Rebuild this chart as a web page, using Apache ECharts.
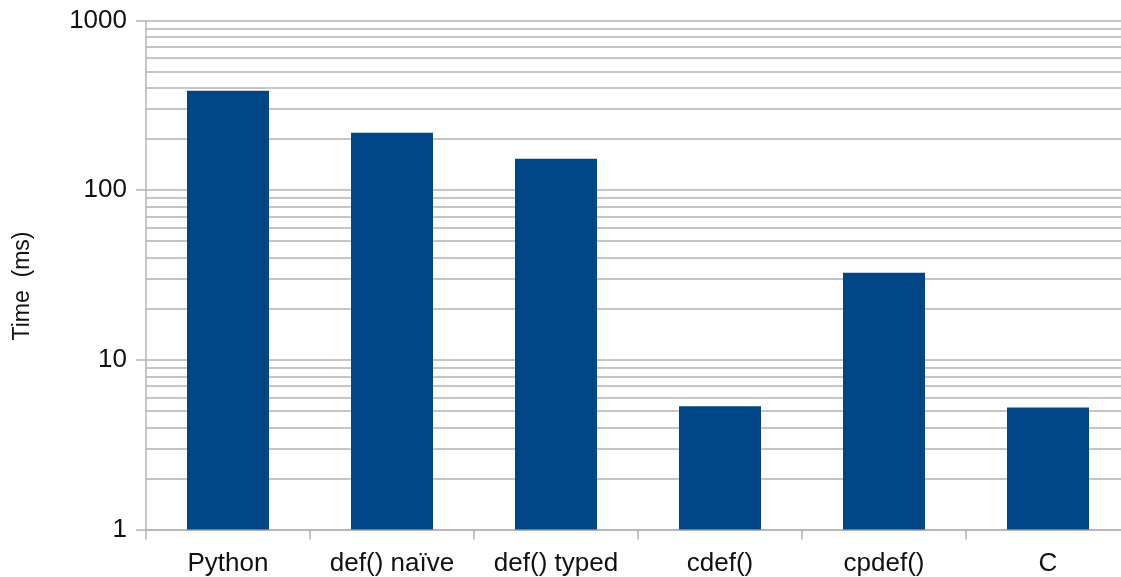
<!DOCTYPE html>
<html>
<head>
<meta charset="utf-8">
<script src="https://cdn.jsdelivr.net/npm/echarts@6/dist/echarts.min.js"></script>
<style>
  html, body { margin: 0; padding: 0; background: #fff; }
  #chart { width: 1121px; height: 577px; }
</style>
</head>
<body>
<div id="chart"></div>
<script>
// Run times of each implementation, in milliseconds
const categories = ['Python', 'def() naïve', 'def() typed', 'cdef()', 'cpdef()', 'C'];
const timesMs = [386, 218, 153, 5.33, 32.6, 5.23];
const majorTicks = [1, 10, 100, 1000];
// Minor grid lines at 2..9 of every decade
const minorGrid = [2, 3, 4, 5, 6, 7, 8, 9, 20, 30, 40, 50, 60, 70, 80, 90, 200, 300, 400, 500, 600, 700, 800, 900];

const gridColor = '#b3b3b3';
const fontFamily = '"Liberation Sans", Arial, sans-serif';

const chart = echarts.init(document.getElementById('chart'), null, { renderer: 'canvas' });
chart.setOption({
  animation: false,
  backgroundColor: '#ffffff',
  textStyle: { fontFamily: fontFamily },
  grid: { left: 146, top: 20.5, width: 984, height: 509, containLabel: false, outerBoundsMode: 'none' },
  xAxis: {
    type: 'category',
    data: categories,
    boundaryGap: true,
    axisLine: { show: true, lineStyle: { color: gridColor, width: 1.5 } },
    axisTick: { show: true, length: 10, interval: 0, lineStyle: { color: gridColor, width: 1.5 } },
    axisLabel: { color: '#111', fontSize: 26, margin: 21, interval: 0, hideOverlap: false, fontFamily: fontFamily },
    splitLine: { show: false }
  },
  yAxis: {
    type: 'log',
    logBase: 10,
    min: majorTicks[0],
    max: majorTicks[majorTicks.length - 1],
    name: 'Time  (ms)',
    nameLocation: 'middle',
    nameRotate: 90,
    nameGap: 112,
    nameTextStyle: { color: '#111', fontSize: 23, fontFamily: fontFamily, padding: [0, 22, 0, 0] },
    axisLine: { show: true, lineStyle: { color: gridColor, width: 1.5 } },
    axisTick: { show: true, length: 10, lineStyle: { color: gridColor, width: 1.5 } },
    axisLabel: { color: '#111', fontSize: 26, margin: 19, fontFamily: fontFamily, formatter: v => String(v) },
    splitLine: { show: true, lineStyle: { color: gridColor, width: 1.5 } },
    minorTick: { show: false },
    minorSplitLine: { show: false }
  },
  series: [{
    type: 'bar',
    data: timesMs,
    barWidth: '50%',
    itemStyle: { color: '#004586' },
    z: 3,
    markLine: {
      silent: true,
      symbol: ['none', 'none'],
      label: { show: false },
      lineStyle: { color: gridColor, width: 1.5, type: 'solid' },
      z: 1,
      data: minorGrid.map(v => ({ yAxis: v }))
    }
  }]
});
</script>
</body>
</html>
